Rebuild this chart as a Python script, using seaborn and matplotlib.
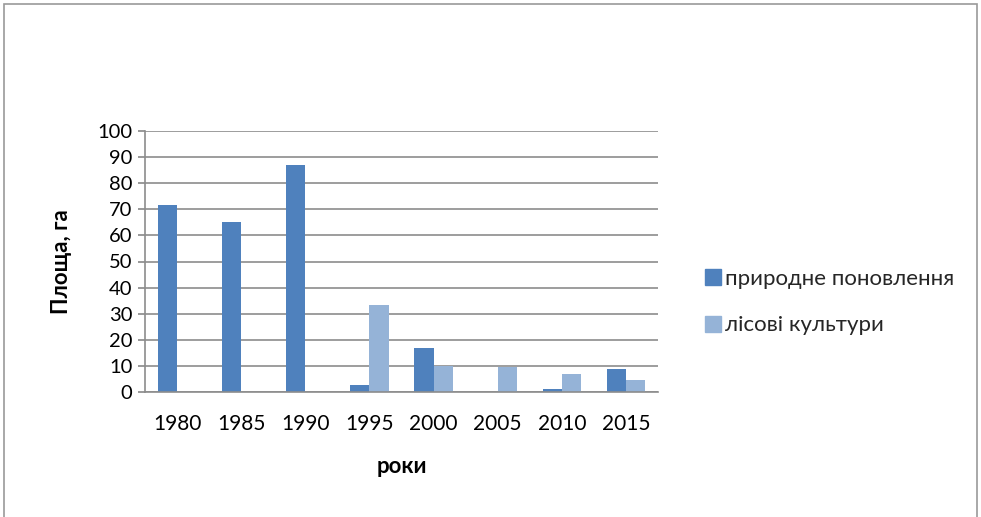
import matplotlib
matplotlib.use("Agg")
import matplotlib.pyplot as plt
import seaborn as sns
import pandas as pd
from matplotlib.patches import Rectangle
from matplotlib.lines import Line2D

years = ["1980", "1985", "1990", "1995", "2000", "2005", "2010", "2015"]
natural = [71.5, 65, 87, 2.5, 17, 0, 1, 8.7]
cultures = [0, 0, 0, 33.3, 10, 9.5, 6.8, 4.6]
series_names = ["природне поновлення", "лісові культури"]
colors = ["#4F81BD", "#95B3D7"]

df = pd.DataFrame({
    "year": years * 2,
    "value": natural + cultures,
    "series": [series_names[0]] * len(years) + [series_names[1]] * len(years),
})

sns.set_theme(style="white")
plt.rcParams['font.family'] = ['Lato', 'DejaVu Sans']

fig = plt.figure(figsize=(9.81, 5.17), dpi=100)
ax = fig.add_axes([145 / 981, 1 - 392 / 517, (658 - 145) / 981, (392 - 131) / 517])

sns.barplot(data=df, x="year", y="value", hue="series", palette=colors,
            ax=ax, width=0.6, saturation=1, legend=False, errorbar=None,
            linewidth=0, gap=0)

ax.set_ylim(0, 100)
ax.set_yticks(range(0, 101, 10))
ax.set_xlim(-0.5, len(years) - 0.5)
ax.yaxis.grid(True, color="#8c8c8c", linewidth=1.2)
ax.set_axisbelow(True)
for s in ["top", "right"]:
    ax.spines[s].set_visible(False)
for s in ["left", "bottom"]:
    ax.spines[s].set_color("#8c8c8c")
    ax.spines[s].set_linewidth(1.2)
ax.tick_params(axis="y", which="both", left=True, length=5, color="#8c8c8c",
               labelsize=14.5, pad=4)
ax.tick_params(axis="x", bottom=False, labelsize=15, pad=10)
for lbl in ax.get_xticklabels() + ax.get_yticklabels():
    lbl.set_color("#000000")

ax.set_xlabel("роки", fontsize=16, fontweight="bold", labelpad=16, color="black")
ax.set_ylabel("Площа, га", fontsize=16, fontweight="bold", labelpad=18, color="black")

handles = [Line2D([0], [0], marker="s", linestyle="none", markersize=11,
                  markerfacecolor=c, markeredgecolor=c) for c in colors]
fig.legend(handles, series_names, loc="center left",
           bbox_to_anchor=(682 / 981, 1 - 302 / 517), frameon=False,
           fontsize=16, handletextpad=0.05, labelspacing=1.2, handlelength=1.0)

# outer chart border
fig.patches.append(Rectangle((4 / 981, -0.01), 973 / 981, 1 - 4 / 517 + 0.01,
                             transform=fig.transFigure, fill=False,
                             edgecolor="#9a9a9a", linewidth=1.2))

fig.savefig("out.png", dpi=100)
